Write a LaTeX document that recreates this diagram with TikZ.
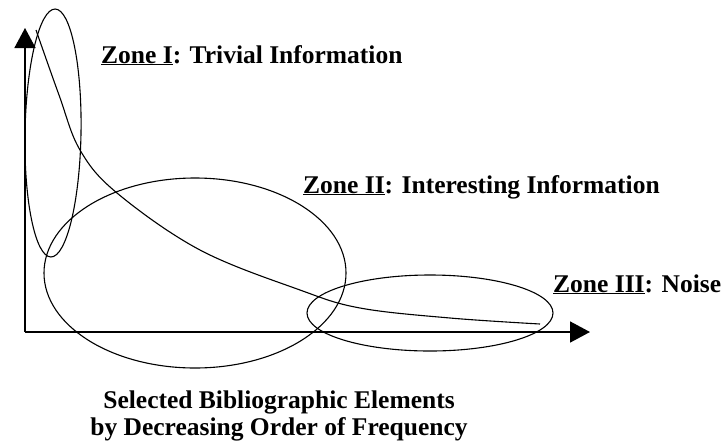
\documentclass[tikz,border=0pt]{standalone}
\usepackage{fontspec}
\setmainfont{Liberation Serif}
\usetikzlibrary{arrows.meta}

\begin{document}
\begin{tikzpicture}
    [
        x = 1pt, y = 1pt,
        every node/.style = {font = \fontsize{25.5}{27.5}\selectfont\bfseries, inner sep = 0pt},
        axis/.style = {line width = 1.6pt, -{Triangle[length = 20pt, width = 21pt]}},
        zone/.style = {line width = 1.1pt}
    ]
        \useasboundingbox (0,0) rectangle (727,-445);

        % axes
        \coordinate (origin) at (25,-332);
        \coordinate (ytip) at (25,-28);
        \coordinate (xtip) at (590,-332);
        \draw[axis] (origin) -- (ytip);
        \draw[axis] (origin) -- (xtip);

        % zones
        \draw[zone] (53,-133) circle [x radius = 28, y radius = 124, rotate = -1];
        \draw[zone] (195,-273) circle [x radius = 151, y radius = 95];
        \draw[zone] (430,-313) circle [x radius = 123, y radius = 38];

        % frequency curve
        \draw[zone] plot[smooth, tension = 0.6] coordinates
            {(36,-30) (59,-95) (80,-150) (117,-193) (200,-250) (300,-290) (360,-308) (450,-318) (540,-324)};

        % labels
        \node[anchor = base west] (zoneone) at (101,-63) {\underline{Zone I}: Trivial Information};
        \node[anchor = base west] (zonetwo) at (303,-193) {\underline{Zone II}: Interesting Information};
        \node[anchor = base west] (zonethree) at (553,-292) {\underline{Zone III}: Noise};
        \node[align = center] (elements) at (279,-416)
            {Selected Bibliographic Elements\\by Decreasing Order of Frequency};
\end{tikzpicture}
\end{document}
